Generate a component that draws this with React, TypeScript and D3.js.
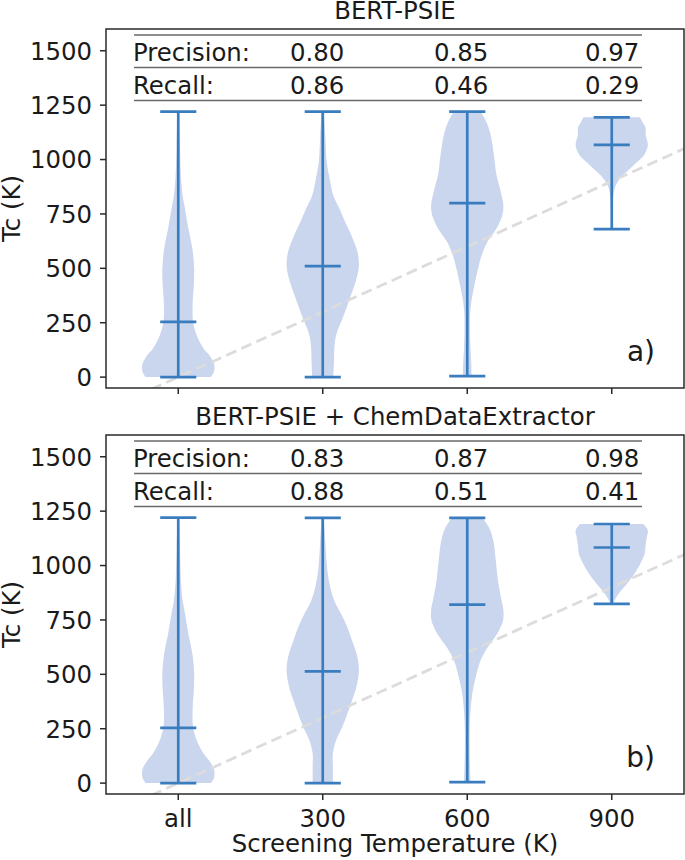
import React from 'react';
import * as d3 from 'd3';

const W = 685;
const H = 860;
const FONT = '"DejaVu Sans", Verdana, sans-serif';
const FS = 24.4;

const categories = ['all', '300', '600', '900'];
const yTicks = [0, 250, 500, 750, 1000, 1250, 1500];

// dashed guide: Tc equal to the screening temperature (300 K per category step)
const guide: [number, number][] = [
  [-0.5, -150],
  [3.5, 1050],
];

// violin outlines: [Tc, relative half width]
const aAll: [number, number][] = [
  [0, 0.9], [25, 0.99], [55, 1.0], [70, 0.97], [101, 0.86], [132, 0.7], [193, 0.51],
  [254, 0.41], [346, 0.4], [420, 0.43], [499, 0.44], [591, 0.39], [683, 0.28],
  [790, 0.17], [836, 0.12], [920, 0.075], [1066, 0.047], [1220, 0.02],
];
const a300: [number, number][] = [
  [0, 0.29], [70, 0.31], [132, 0.32], [193, 0.37], [254, 0.51], [315, 0.65],
  [376, 0.78], [438, 0.91], [510, 1.0], [576, 0.96], [652, 0.79], [713, 0.62],
  [775, 0.46], [836, 0.29], [913, 0.19], [989, 0.11], [1112, 0.07], [1220, 0.03],
];
const a600: [number, number][] = [
  [5, 0.12], [70, 0.11], [132, 0.09], [223, 0.075], [315, 0.09], [407, 0.18],
  [499, 0.3], [560, 0.4], [622, 0.56], [683, 0.81], [744, 0.97], [790, 1.0],
  [851, 0.93], [928, 0.81], [1020, 0.74], [1112, 0.65], [1173, 0.53], [1220, 0.37],
];
const a900: [number, number][] = [
  [680, 0.01], [775, 0.02], [867, 0.08], [913, 0.23], [959, 0.51], [989, 0.7],
  [1020, 0.89], [1066, 1.0], [1112, 0.94], [1150, 0.93], [1173, 0.85], [1194, 0.78],
];

const bAll: [number, number][] = [
  [0, 0.9], [25, 0.99], [55, 1.0], [72, 0.97], [103, 0.86], [136, 0.7], [197, 0.51],
  [258, 0.41], [350, 0.4], [424, 0.43], [504, 0.44], [595, 0.39], [687, 0.28],
  [794, 0.17], [840, 0.12], [924, 0.075], [1070, 0.047], [1220, 0.02],
];
const b300: [number, number][] = [
  [0, 0.28], [75, 0.28], [136, 0.28], [197, 0.37], [258, 0.54], [319, 0.68],
  [380, 0.81], [441, 0.93], [514, 1.0], [579, 0.96], [655, 0.81], [716, 0.68],
  [777, 0.51], [838, 0.32], [914, 0.19], [991, 0.12], [1113, 0.07], [1219, 0.03],
];
const b600: [number, number][] = [
  [5, 0.09], [75, 0.075], [228, 0.065], [320, 0.085], [412, 0.14], [504, 0.26],
  [565, 0.37], [626, 0.57], [687, 0.83], [748, 0.99], [794, 1.0], [855, 0.93],
  [931, 0.85], [1023, 0.79], [1115, 0.72], [1176, 0.6], [1219, 0.42],
];
const b900: [number, number][] = [
  [824, 0.03], [870, 0.19], [916, 0.42], [962, 0.63], [1008, 0.79], [1054, 0.91],
  [1084, 0.93], [1130, 0.97], [1161, 1.0], [1191, 0.88],
];

const mediansA = [254, 510, 800, 1067];
const mediansB = [254, 514, 820, 1083];

const precisionA = ['0.80', '0.85', '0.97'];
const recallA = ['0.86', '0.46', '0.29'];
const precisionB = ['0.83', '0.87', '0.98'];
const recallB = ['0.88', '0.51', '0.41'];

const FILL = '#c9d6ee';
const LINE = '#3a7dbf';
const INK = '#1a1a1a';

interface PanelProps {
  top: number;
  title: string;
  tag: string;
  precision: string[];
  recall: string[];
  profiles: [number, number][][];
  medians: number[];
  showXLabels: boolean;
  id: string;
}

const LEFT = 106;
const RIGHT = 684;
const PH = 359;
const HALF = 0.25;

function Panel({ top, title, tag, precision, recall, profiles, medians, showXLabels, id }: PanelProps) {
  const x = d3.scaleLinear().domain([-0.5, 3.5]).range([LEFT, RIGHT]);
  const y = d3.scaleLinear().domain([-50, 1600]).range([top + PH, top]);
  const bottom = top + PH;

  const guidePath = d3
    .line<[number, number]>()
    .x((d) => x(d[0]))
    .y((d) => y(d[1]))(guide) as string;

  const colStarts = [290, 434, 585];
  const rowLines = [top + 6, top + 38.5, top + 71.5];
  const rowBase = [top + 31.5, top + 64.5];

  return (
    <g>
      <defs>
        <clipPath id={`clip-${id}`}>
          <rect x={LEFT} y={top} width={RIGHT - LEFT} height={PH} />
        </clipPath>
      </defs>
      <text x={(LEFT + RIGHT) / 2} y={top - 10} textAnchor="middle" fontSize={FS} fill={INK}>
        {title}
      </text>

      <g clipPath={`url(#clip-${id})`}>
        {profiles.map((prof, i) => {
          const area = d3
            .area<[number, number]>()
            .y((d) => y(d[0]))
            .x0((d) => x(i - d[1] * HALF))
            .x1((d) => x(i + d[1] * HALF))
            .curve(d3.curveCatmullRom.alpha(0.5));
          return <path key={`v${i}`} d={area(prof) as string} fill={FILL} stroke="none" />;
        })}
        <path d={guidePath} fill="none" stroke="#dcdcdc" strokeWidth={2.8} strokeDasharray="11 5.5" />
        {profiles.map((prof, i) => {
          const lo = prof[0][0];
          const hi = prof[prof.length - 1][0];
          return (
            <g key={`l${i}`} stroke={LINE} strokeWidth={2.7}>
              <line x1={x(i)} x2={x(i)} y1={y(lo)} y2={y(hi)} />
              <line x1={x(i - HALF / 2)} x2={x(i + HALF / 2)} y1={y(lo)} y2={y(lo)} />
              <line x1={x(i - HALF / 2)} x2={x(i + HALF / 2)} y1={y(hi)} y2={y(hi)} />
              <line x1={x(i - HALF / 2)} x2={x(i + HALF / 2)} y1={y(medians[i])} y2={y(medians[i])} />
            </g>
          );
        })}
      </g>

      {/* table */}
      {rowLines.map((ly, k) => (
        <line key={`t${k}`} x1={134} x2={642} y1={ly} y2={ly} stroke="#6a6a6a" strokeWidth={1.3} />
      ))}
      <text x={133} y={rowBase[0]} fontSize={FS} fill={INK}>
        Precision:
      </text>
      <text x={133} y={rowBase[1]} fontSize={FS} fill={INK}>
        Recall:
      </text>
      {precision.map((v, k) => (
        <text key={`p${k}`} x={colStarts[k]} y={rowBase[0]} fontSize={FS} fill={INK}>
          {v}
        </text>
      ))}
      {recall.map((v, k) => (
        <text key={`r${k}`} x={colStarts[k]} y={rowBase[1]} fontSize={FS} fill={INK}>
          {v}
        </text>
      ))}

      <text x={655} y={bottom - 27} textAnchor="end" fontSize={28} fill={INK}>
        {tag}
      </text>

      {/* axes frame */}
      <rect x={LEFT} y={top} width={RIGHT - LEFT} height={PH} fill="none" stroke="#2a2a2a" strokeWidth={1.5} />

      {yTicks.map((t) => (
        <g key={`y${t}`}>
          <line x1={LEFT - 6} x2={LEFT} y1={y(t)} y2={y(t)} stroke="#2a2a2a" strokeWidth={1.5} />
          <text x={LEFT - 14} y={y(t)} dy="0.36em" textAnchor="end" fontSize={FS} fill={INK}>
            {t}
          </text>
        </g>
      ))}
      {categories.map((c, i) => (
        <g key={`x${c}`}>
          <line x1={x(i)} x2={x(i)} y1={bottom} y2={bottom + 6} stroke="#2a2a2a" strokeWidth={1.5} />
          {showXLabels && (
            <text x={x(i)} y={bottom + 33} textAnchor="middle" fontSize={FS} fill={INK}>
              {c}
            </text>
          )}
        </g>
      ))}
      <text
        transform={`translate(20,${top + PH / 2}) rotate(-90)`}
        textAnchor="middle"
        fontSize={FS}
        fill={INK}
      >
        Tc (K)
      </text>
    </g>
  );
}

export default function App() {
  return (
    <svg
      width={W}
      height={H}
      viewBox={`0 0 ${W} ${H}`}
      style={{ position: 'absolute', left: 0, top: 0, background: '#fff', fontFamily: FONT }}
    >
      <rect width={W} height={H} fill="#fff" />
      <Panel
        id="a"
        top={29}
        title="BERT-PSIE"
        tag="a)"
        precision={precisionA}
        recall={recallA}
        profiles={[aAll, a300, a600, a900]}
        medians={mediansA}
        showXLabels={false}
      />
      <Panel
        id="b"
        top={435}
        title="BERT-PSIE + ChemDataExtractor"
        tag="b)"
        precision={precisionB}
        recall={recallB}
        profiles={[bAll, b300, b600, b900]}
        medians={mediansB}
        showXLabels
      />
      <text x={(LEFT + RIGHT) / 2} y={852} textAnchor="middle" fontSize={FS} fill={INK}>
        Screening Temperature (K)
      </text>
    </svg>
  );
}
